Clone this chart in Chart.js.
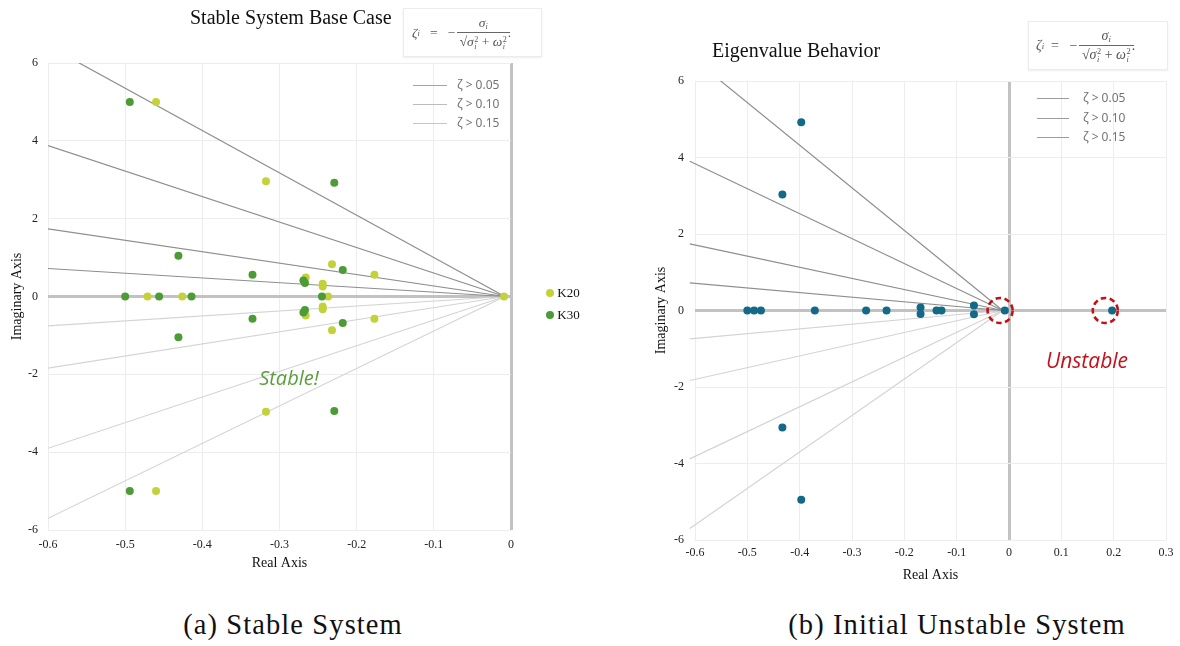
<!DOCTYPE html>
<html>
<head>
<meta charset="utf-8">
<script src="https://cdn.jsdelivr.net/npm/chart.js@4.4.1/dist/chart.umd.min.js"></script>
<style>
  html, body { margin: 0; padding: 0; background: #fff; }
  body { width: 1180px; height: 646px; position: relative; overflow: hidden; font-family: "Liberation Serif", serif; }
  .abs { position: absolute; }
  .title { font-family: "Liberation Serif", serif; font-size: 20px; color: #111; white-space: nowrap; line-height: 24px; }
  .caption { font-family: "Liberation Serif", serif; font-size: 28.5px; letter-spacing: 1.1px; color: #111; white-space: nowrap; line-height: 30px; transform: translateX(-50%); }
  .fbox { background: #fff; border: 1px solid #ececec; box-shadow: 0 1px 2px rgba(0,0,0,0.07); box-sizing: border-box; }
  .formula { position: absolute; font-family: "Liberation Serif", serif; color: #555; white-space: nowrap; display: flex; align-items: center; }
  .formula i { font-style: italic; }
  .frac { display: inline-flex; flex-direction: column; align-items: center; margin: 0 1px; }
  .frac .num { border-bottom: 1px solid #666; padding: 0 3px 1px; line-height: 1; width: 100%; text-align: center; }
  .frac .den { line-height: 1; padding-top: 2px; }
  .ss { display: inline-flex; flex-direction: column; font-size: 0.6em; line-height: 0.9; vertical-align: middle; margin-left: 0.5px; }
  .sub { font-size: 0.62em; vertical-align: -0.25em; }
  .zleg { font-family: "Noto Sans", sans-serif; font-size: 12px; color: #737373; white-space: nowrap; line-height: 16px; }
  .zline { height: 0; border-top: 1.3px solid #aaa; }
  .kleg { font-family: "Liberation Serif", serif; font-size: 13px; color: #111; line-height: 16px; white-space: nowrap; }
  .kdot { width: 8px; height: 8px; border-radius: 50%; display: inline-block; }
  .note { font-family: "Open Sans", sans-serif; font-style: italic; white-space: nowrap; transform: translate(-50%, -50%); }
</style>
</head>
<body>

<div class="abs" style="left:0;top:0;width:590px;height:600px;"><canvas id="c1" width="590" height="600"></canvas></div>
<div class="abs" style="left:590px;top:0;width:590px;height:600px;"><canvas id="c2" width="590" height="600"></canvas></div>

<!-- Left chart decorations -->
<div class="abs title" style="left:190px;top:5px;">Stable System Base Case</div>
<div class="abs fbox" style="left:403px;top:8px;width:139px;height:49px;"></div>
<div class="formula" style="left:412px;top:12px;height:42px;font-size:13.5px;">
  <i>ζ</i><span class="sub"><i>i</i></span>&nbsp;&nbsp;&nbsp;=&nbsp;&nbsp;&nbsp;−&nbsp;
  <span class="frac"><span class="num"><i>σ</i><span class="sub"><i>i</i></span></span><span class="den">√<span style="border-top:1px solid #666;padding-top:1px;"><i>σ</i><span class="ss"><span>2</span><i>i</i></span> + <i>ω</i><span class="ss"><span>2</span><i>i</i></span></span></span></span>.
</div>

<div class="abs zline" style="left:413px;top:85px;width:34px;border-color:#a3a3a3;"></div>
<div class="abs zline" style="left:413px;top:104px;width:34px;border-color:#bcbcbc;"></div>
<div class="abs zline" style="left:413px;top:123px;width:34px;border-color:#c6c6c6;"></div>
<div class="abs zleg" style="left:457px;top:77px;">ζ &gt; 0.05</div>
<div class="abs zleg" style="left:457px;top:96px;">ζ &gt; 0.10</div>
<div class="abs zleg" style="left:457px;top:115px;">ζ &gt; 0.15</div>

<div class="abs kleg" style="left:546px;top:285px;"><span class="kdot" id="k20dot"></span> K20</div>
<div class="abs kleg" style="left:546px;top:307px;"><span class="kdot" id="k30dot"></span> K30</div>

<div class="abs note" style="left:289px;top:377px;font-size:20px;color:#5c9e3e;">Stable!</div>

<div class="abs caption" style="left:293px;top:610px;">(a) Stable System</div>

<!-- Right chart decorations -->
<div class="abs title" style="left:712px;top:38px;">Eigenvalue Behavior</div>
<div class="abs fbox" style="left:1028px;top:21px;width:140px;height:49px;"></div>
<div class="formula" style="left:1036px;top:25px;height:42px;font-size:14px;">
  <i>ζ</i><span class="sub"><i>i</i></span>&nbsp;&nbsp;=&nbsp;&nbsp;&nbsp;−&nbsp;
  <span class="frac"><span class="num"><i>σ</i><span class="sub"><i>i</i></span></span><span class="den">√<span style="border-top:1px solid #666;padding-top:1px;"><i>σ</i><span class="ss"><span>2</span><i>i</i></span> + <i>ω</i><span class="ss"><span>2</span><i>i</i></span></span></span></span>.
</div>

<div class="abs zline" style="left:1037px;top:98px;width:32px;border-color:#9c9c9c;"></div>
<div class="abs zline" style="left:1037px;top:118px;width:32px;border-color:#9c9c9c;"></div>
<div class="abs zline" style="left:1037px;top:137px;width:32px;border-color:#9c9c9c;"></div>
<div class="abs zleg" style="left:1083px;top:90px;">ζ &gt; 0.05</div>
<div class="abs zleg" style="left:1083px;top:110px;">ζ &gt; 0.10</div>
<div class="abs zleg" style="left:1083px;top:129px;">ζ &gt; 0.15</div>

<div class="abs note" style="left:1087px;top:360px;font-size:21px;color:#c3101b;">Unstable</div>

<div class="abs caption" style="left:957px;top:610px;">(b) Initial Unstable System</div>

<script>
// ---------------- DATA ----------------
// Left chart: Stable System Base Case
const leftXTicks = [-0.6, -0.5, -0.4, -0.3, -0.2, -0.1, 0];
const leftXTickLabels = ['-0.6', '-0.5', '-0.4', '-0.3', '-0.2', '-0.1', '0'];
const yTicks = [-6, -4, -2, 0, 2, 4, 6];
const yTickLabels = ['-6', '-4', '-2', '0', '2', '4', '6'];

const k20Real = [-0.460, -0.460, -0.3175, -0.3175, -0.232, -0.232, -0.177, -0.177, -0.266, -0.266, -0.244, -0.244, -0.244, -0.244, -0.471, -0.426, -0.237, -0.009];
const k20Imag = [ 5.00, -5.00,  2.96,  -2.96,   0.83,  -0.87,   0.56,  -0.57,   0.49,  -0.49,   0.33,  -0.33,   0.26,  -0.26,  0, 0, 0, 0];

const k30Real = [-0.494, -0.494, -0.229, -0.229, -0.431, -0.431, -0.335, -0.335, -0.218, -0.218, -0.267, -0.267, -0.269, -0.269, -0.500, -0.456, -0.414, -0.245];
const k30Imag = [ 5.00, -5.00,  2.92,  -2.94,   1.05,  -1.05,   0.56,  -0.57,   0.68,  -0.68,   0.35,  -0.35,   0.41,  -0.41, 0, 0, 0, 0];

// damping-ratio guide lines (end points at the left edge, all meeting at the origin point)
const leftGuideOrigin = [-0.008, 0];
const leftUpperGuideX = [-0.6, -0.6, -0.6, -0.6];
const leftUpperGuideY = [6.44, 3.88, 1.74, 0.72];
const leftLowerGuideX = [-0.6, -0.6, -0.6, -0.6];
const leftLowerGuideY = [-0.754, -1.84, -3.90, -5.70];

// Right chart: Eigenvalue Behavior
const rightXTicks = [-0.6, -0.5, -0.4, -0.3, -0.2, -0.1, 0, 0.1, 0.2, 0.3];
const rightXTickLabels = ['-0.6', '-0.5', '-0.4', '-0.3', '-0.2', '-0.1', '0', '0.1', '0.2', '0.3'];

const eigReal = [-0.397, -0.433, -0.433, -0.397, -0.500, -0.487, -0.474, -0.371, -0.273, -0.234, -0.169, -0.169, -0.1385, -0.129, -0.067, -0.067, -0.008, 0.197];
const eigImag = [ 4.92,   3.03,  -3.06,  -4.95,   0,      0,      0,      0,      0,      0,      0.08,  -0.09,   0,       0,      0.13,  -0.10,   0,     0];

const rightGuideOrigin = [-0.012, 0];
const rightUpperGuideX = [-0.61, -0.61, -0.61, -0.61];
const rightUpperGuideY = [6.66, 3.90, 1.74, 0.72];
const rightLowerGuideX = [-0.61, -0.61, -0.61, -0.61];
const rightLowerGuideY = [-0.74, -1.83, -3.88, -5.70];

// eigenvalues flagged as unstable (dashed circles)
const flaggedReal = [-0.017, 0.184];
const flaggedImag = [0, 0];

// ---------------- STYLE ----------------
const C_K20 = '#c4d23a';
const C_K30 = '#4c9b36';
const C_EIG = '#146a86';
const C_UP = '#8e8e8e';
const C_LOW = '#d4d4d4';

document.getElementById('k20dot').style.background = C_K20;
document.getElementById('k30dot').style.background = C_K30;

const pts = (xs, ys) => xs.map((x, i) => ({ x: x, y: ys[i] }));

function guideSets(xs, ys, origin, color, clip) {
  return xs.map((x, i) => ({
    type: 'scatter',
    data: [{ x: x, y: ys[i] }, { x: origin[0], y: origin[1] }],
    showLine: true,
    borderColor: color,
    borderWidth: 1.2,
    pointRadius: 0,
    order: 2,
    clip: clip
  }));
}

const tickFont = { family: 'Liberation Serif', size: 12 };
const titleFont = { family: 'Liberation Serif', size: 14, lineHeight: 1.2 };

function gridColor(ctx) { return (ctx.tick && ctx.tick.value === 0) ? '#c2c2c2' : '#ededed'; }
function gridWidth(ctx) { return (ctx.tick && ctx.tick.value === 0) ? 3 : 1; }

function makeChart(id, cfg) {
  return new Chart(document.getElementById(id), {
    type: 'scatter',
    data: { datasets: cfg.datasets },
    options: {
      responsive: false,
      animation: false,
      devicePixelRatio: 1,
      layout: { padding: cfg.padding },
      plugins: { legend: { display: false }, tooltip: { enabled: false } },
      scales: {
        x: {
          type: 'linear',
          min: cfg.xMin, max: cfg.xMax,
          afterBuildTicks: (s) => { s.ticks = cfg.xTicks.map(v => ({ value: v })); },
          afterFit: (s) => { s.height = cfg.xAxisHeight; },
          ticks: {
            font: tickFont, color: '#222', padding: cfg.xTickPad, maxRotation: 0,
            callback: (v, i) => cfg.xTickLabels[i]
          },
          grid: { color: gridColor, lineWidth: gridWidth, drawTicks: false },
          border: { display: false },
          title: { display: true, text: 'Real Axis', font: titleFont, color: '#111', padding: { top: 0, bottom: cfg.xTitlePad } }
        },
        y: {
          type: 'linear',
          min: -6, max: 6,
          afterBuildTicks: (s) => { s.ticks = yTicks.map(v => ({ value: v })); },
          afterFit: (s) => { s.width = cfg.yAxisWidth; },
          ticks: {
            font: tickFont, color: '#222', padding: cfg.yTickPad,
            callback: (v, i) => yTickLabels[i]
          },
          grid: { color: gridColor, lineWidth: gridWidth, drawTicks: false },
          border: { display: false },
          title: { display: true, text: 'Imaginary Axis', font: titleFont, color: '#111', padding: { top: cfg.yTitlePad, bottom: 0 } }
        }
      }
    },
    plugins: cfg.plugins || []
  });
}

// Left chart
makeChart('c1', {
  xMin: -0.6, xMax: 0,
  xTicks: leftXTicks, xTickLabels: leftXTickLabels,
  padding: { left: 0, top: 63, right: 79, bottom: 0 },
  yAxisWidth: 48, xAxisHeight: 70,
  xTickPad: 8, yTickPad: 10,
  xTitlePad: 28.6, yTitlePad: 8.6,
  datasets: [
    { label: 'K20', data: pts(k20Real, k20Imag), backgroundColor: C_K20, borderWidth: 0, pointRadius: 4, order: 1 },
    { label: 'K30', data: pts(k30Real, k30Imag), backgroundColor: C_K30, borderWidth: 0, pointRadius: 4, order: 0 },
    ...guideSets(leftUpperGuideX, leftUpperGuideY, leftGuideOrigin, C_UP, 0),
    ...guideSets(leftLowerGuideX, leftLowerGuideY, leftGuideOrigin, C_LOW, 0)
  ]
});

// Right chart
const flagPlugin = {
  id: 'flagCircles',
  afterDatasetsDraw(chart) {
    const ctx = chart.ctx, xs = chart.scales.x, ys = chart.scales.y;
    ctx.save();
    ctx.strokeStyle = '#c40f14';
    ctx.lineWidth = 2.6;
    ctx.setLineDash([5.5, 3.5]);
    flaggedReal.forEach((x, i) => {
      ctx.beginPath();
      ctx.arc(xs.getPixelForValue(x), ys.getPixelForValue(flaggedImag[i]), 12.5, 0, Math.PI * 2);
      ctx.stroke();
    });
    ctx.restore();
  }
};

makeChart('c2', {
  xMin: -0.6, xMax: 0.3,
  xTicks: rightXTicks, xTickLabels: rightXTickLabels,
  padding: { left: 0, top: 81, right: 14, bottom: 0 },
  yAxisWidth: 105, xAxisHeight: 60,
  xTickPad: 6, yTickPad: 11,
  xTitlePad: 16.6, yTitlePad: 62.6,
  datasets: [
    { label: 'Eigenvalues', data: pts(eigReal, eigImag), backgroundColor: C_EIG, borderWidth: 0, pointRadius: 4, order: 0 },
    ...guideSets(rightUpperGuideX, rightUpperGuideY, rightGuideOrigin, C_UP, { left: 6, top: 0, right: 0, bottom: 0 }),
    ...guideSets(rightLowerGuideX, rightLowerGuideY, rightGuideOrigin, C_LOW, { left: 6, top: 0, right: 0, bottom: 0 })
  ],
  plugins: [flagPlugin]
});
</script>
</body>
</html>
